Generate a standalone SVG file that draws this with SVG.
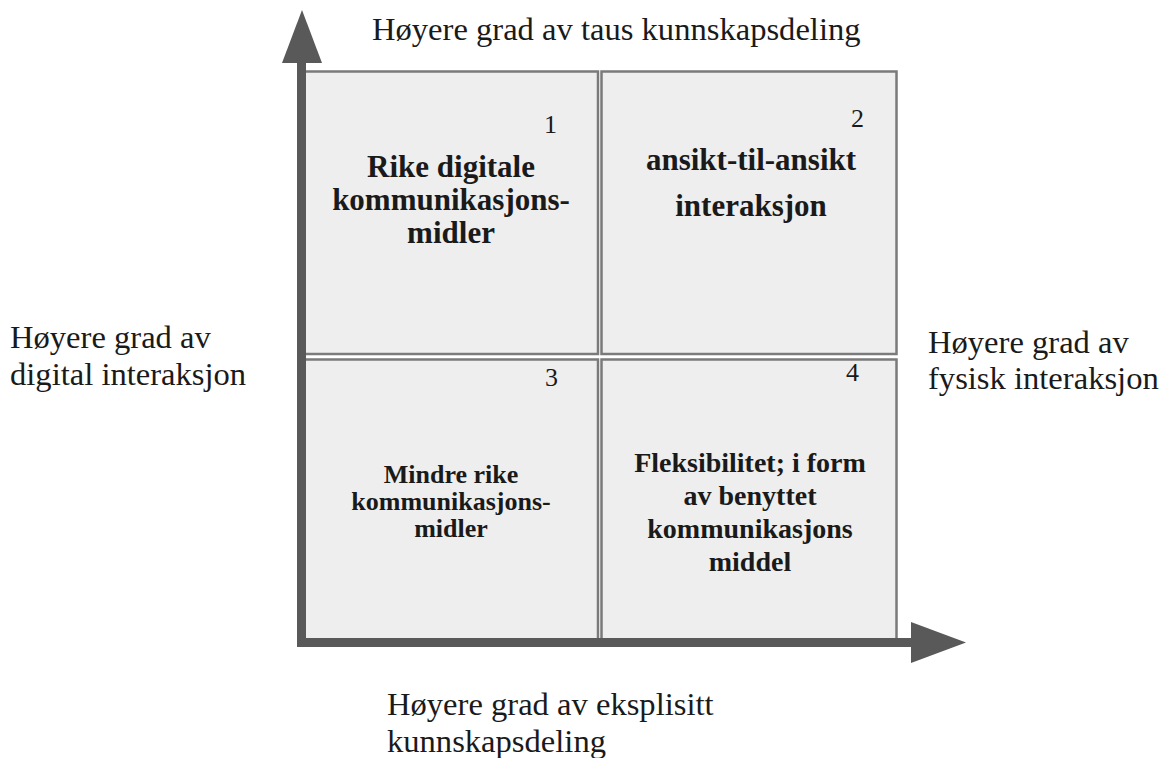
<svg xmlns="http://www.w3.org/2000/svg" width="1165" height="758" viewBox="0 0 1165 758">
  <style>
    .cell { fill: #eeeeee; stroke: #7a7a7a; stroke-width: 2.5; }
    .axis { stroke: #595959; stroke-width: 9; fill: none; }
    .head { fill: #595959; }
    .lbl { font-family: "Liberation Serif", "Times New Roman", serif; font-size: 32.6px; fill: #1a1a1a; }
    .title { font-family: "Liberation Serif", "Times New Roman", serif; font-weight: bold; fill: #1a1a1a; text-anchor: middle; }
    .num { font-family: "Liberation Serif", "Times New Roman", serif; font-size: 26px; fill: #1a1a1a; }
  </style>
  <rect width="1165" height="758" fill="#ffffff"/>

  <!-- quadrants -->
  <g id="q1">
    <rect class="cell" x="304.5" y="71.5" width="293.5" height="282.5"/>
    <text class="num" x="544" y="133">1</text>
    <text class="title" font-size="31" x="451" y="177">Rike digitale</text>
    <text class="title" font-size="31" x="451" y="210">kommunikasjons-</text>
    <text class="title" font-size="31" x="451" y="243">midler</text>
  </g>
  <g id="q2">
    <rect class="cell" x="601.5" y="71.5" width="295" height="282.5"/>
    <text class="num" x="851" y="127">2</text>
    <text class="title" font-size="31" x="751" y="170">ansikt-til-ansikt</text>
    <text class="title" font-size="31" x="751" y="216">interaksjon</text>
  </g>
  <g id="q3">
    <rect class="cell" x="304.5" y="359.5" width="293.5" height="282"/>
    <text class="num" x="545" y="386">3</text>
    <text class="title" font-size="26" x="451" y="483">Mindre rike</text>
    <text class="title" font-size="26" x="451" y="510">kommunikasjons-</text>
    <text class="title" font-size="26" x="451" y="537">midler</text>
  </g>
  <g id="q4">
    <rect class="cell" x="601.5" y="359.5" width="295" height="282"/>
    <text class="num" x="846" y="381">4</text>
    <text class="title" font-size="28" x="750" y="472">Fleksibilitet; i form</text>
    <text class="title" font-size="28" x="750" y="505">av benyttet</text>
    <text class="title" font-size="28" x="750" y="538">kommunikasjons</text>
    <text class="title" font-size="28" x="750" y="571">middel</text>
  </g>

  <!-- axes -->
  <g id="axes">
    <line class="axis" x1="301.5" y1="647" x2="301.5" y2="60"/>
    <polygon class="head" points="302,10 282,63 322,63"/>
    <line class="axis" x1="297" y1="642.5" x2="914" y2="642.5"/>
    <polygon class="head" points="911,622 911,663 966,642.5"/>
  </g>

  <!-- axis labels -->
  <g id="label-top">
    <text class="lbl" x="372" y="40">Høyere grad av taus kunnskapsdeling</text>
  </g>
  <g id="label-left">
    <text class="lbl" x="10" y="348">Høyere grad av</text>
    <text class="lbl" x="10" y="385">digital interaksjon</text>
  </g>
  <g id="label-right">
    <text class="lbl" x="928" y="353">Høyere grad av</text>
    <text class="lbl" x="928" y="389">fysisk interaksjon</text>
  </g>
  <g id="label-bottom">
    <text class="lbl" x="387" y="715">Høyere grad av eksplisitt</text>
    <text class="lbl" x="387" y="752">kunnskapsdeling</text>
  </g>
</svg>
